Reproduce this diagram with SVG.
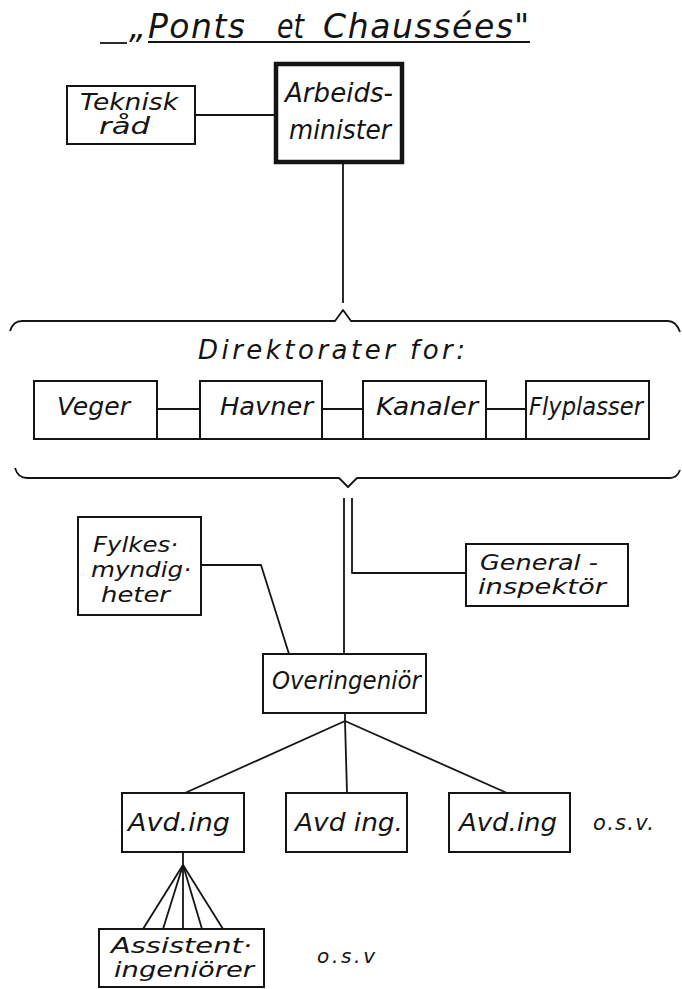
<svg xmlns="http://www.w3.org/2000/svg" width="682" height="989" viewBox="0 0 682 989">
<style>
  .bg { fill: #ffffff; }
  .box { fill: none; stroke: #141414; stroke-width: 2; }
  .thick { fill: none; stroke: #141414; stroke-width: 4.5; }
  .ln { fill: none; stroke: #141414; stroke-width: 1.8; stroke-linejoin: round; }
  text { font-family: "DejaVu Sans", "Liberation Sans", sans-serif; font-style: italic; fill: #141414; }
  .t21 { font-size: 21px; }
  .t22 { font-size: 22px; }
  .t23 { font-size: 23px; }
  .t24 { font-size: 24px; }
  .t26 { font-size: 26px; }
</style>
<rect class="bg" x="0" y="0" width="682" height="989"/>

<g id="title">
  <line class="ln" x1="100" y1="43" x2="127" y2="43" stroke-width="2"/>
  <line class="ln" x1="148" y1="42" x2="530" y2="42" stroke-width="2"/>
  <text font-size="33"><tspan x="129" y="38">„</tspan><tspan x="148" y="38" textLength="97" lengthAdjust="spacing">Ponts</tspan><tspan x="277" y="38" textLength="27" lengthAdjust="spacingAndGlyphs">et</tspan><tspan x="323" y="38" textLength="190" lengthAdjust="spacing">Chaussées</tspan><tspan x="514" y="38">"</tspan></text>
</g>

<g id="connectors">
  <line class="ln" x1="195" y1="115" x2="274" y2="115"/>
  <line class="ln" x1="343" y1="164" x2="343" y2="303"/>
  <path class="ln" d="M10,331 Q13,321 22,321 H335 L343,310 L351,321 H668 Q676,321 680,332" stroke-width="2"/>
  <line class="ln" x1="157" y1="409" x2="200" y2="409"/>
  <line class="ln" x1="322" y1="409" x2="363" y2="409"/>
  <line class="ln" x1="486" y1="409" x2="526" y2="409"/>
  <line class="ln" x1="34" y1="439" x2="649" y2="439" stroke-width="2"/>
  <path class="ln" d="M15,468 Q18,478 27,478 H339 L348,487 L357,478 H670 Q677,478 680,470" stroke-width="2"/>
  <line class="ln" x1="344" y1="498" x2="344" y2="654"/>
  <polyline class="ln" points="352,498 352,573 466,573"/>
  <polyline class="ln" points="201,565 261,565 289,654"/>
  <polyline class="ln" points="345,713 345,721 185,793"/>
  <line class="ln" x1="345" y1="721" x2="347" y2="793"/>
  <line class="ln" x1="345" y1="721" x2="507" y2="793"/>
  <polyline class="ln" points="183,852 183,865 143,929"/>
  <line class="ln" x1="183" y1="865" x2="163" y2="929"/>
  <line class="ln" x1="183" y1="865" x2="183" y2="929"/>
  <line class="ln" x1="183" y1="865" x2="202" y2="929"/>
  <line class="ln" x1="183" y1="865" x2="223" y2="929"/>
</g>

<g id="teknisk-rad">
  <rect class="box" x="67" y="86" width="128" height="58"/>
  <text class="t23"><tspan x="80" y="110" textLength="98" lengthAdjust="spacingAndGlyphs">Teknisk</tspan><tspan x="99" y="134" textLength="51" lengthAdjust="spacingAndGlyphs">råd</tspan></text>
</g>

<g id="arbeidsminister">
  <rect class="thick" x="276" y="64" width="126" height="98"/>
  <text class="t26"><tspan x="285" y="102" textLength="108" lengthAdjust="spacing">Arbeids-</tspan><tspan x="289" y="139" textLength="102" lengthAdjust="spacingAndGlyphs">minister</tspan></text>
</g>

<g id="direktorater">
  <text class="t26" x="198" y="359" textLength="267" lengthAdjust="spacing">Direktorater for:</text>
</g>

<g id="veger">
  <rect class="box" x="34" y="381" width="123" height="58"/>
  <text class="t24" x="57" y="415" textLength="73" lengthAdjust="spacingAndGlyphs">Veger</text>
</g>
<g id="havner">
  <rect class="box" x="200" y="381" width="122" height="58"/>
  <text class="t24" x="220" y="415" textLength="93" lengthAdjust="spacingAndGlyphs">Havner</text>
</g>
<g id="kanaler">
  <rect class="box" x="363" y="381" width="123" height="58"/>
  <text class="t24" x="376" y="415" textLength="102" lengthAdjust="spacingAndGlyphs">Kanaler</text>
</g>
<g id="flyplasser">
  <rect class="box" x="526" y="381" width="123" height="58"/>
  <text class="t24" x="529" y="415" textLength="114" lengthAdjust="spacingAndGlyphs">Flyplasser</text>
</g>

<g id="fylkesmyndigheter">
  <rect class="box" x="78" y="517" width="123" height="98"/>
  <text class="t22"><tspan x="93" y="552" textLength="85" lengthAdjust="spacingAndGlyphs">Fylkes·</tspan><tspan x="91" y="577" textLength="100" lengthAdjust="spacingAndGlyphs">myndig·</tspan><tspan x="101" y="602" textLength="69" lengthAdjust="spacingAndGlyphs">heter</tspan></text>
</g>

<g id="generalinspektor">
  <rect class="box" x="466" y="544" width="162" height="62"/>
  <text class="t21"><tspan x="480" y="570" textLength="118" lengthAdjust="spacingAndGlyphs">General -</tspan><tspan x="478" y="594" textLength="128" lengthAdjust="spacingAndGlyphs">inspektör</tspan></text>
</g>

<g id="overingenior">
  <rect class="box" x="263" y="654" width="163" height="59"/>
  <text class="t24" x="272" y="689" textLength="149" lengthAdjust="spacingAndGlyphs">Overingeniör</text>
</g>

<g id="avd-ing-1">
  <rect class="box" x="122" y="793" width="122" height="59"/>
  <text class="t24" x="128" y="831" textLength="102" lengthAdjust="spacingAndGlyphs">Avd.ing</text>
</g>
<g id="avd-ing-2">
  <rect class="box" x="286" y="793" width="121" height="59"/>
  <text class="t24" x="295" y="831" textLength="108" lengthAdjust="spacingAndGlyphs">Avd ing.</text>
</g>
<g id="avd-ing-3">
  <rect class="box" x="449" y="793" width="121" height="59"/>
  <text class="t24" x="459" y="831" textLength="98" lengthAdjust="spacingAndGlyphs">Avd.ing</text>
</g>
<g id="osv-1">
  <text font-size="21" x="593" y="830" textLength="61" lengthAdjust="spacing">o.s.v.</text>
</g>

<g id="assistentingeniorer">
  <rect class="box" x="99" y="929" width="165" height="58"/>
  <text class="t22"><tspan x="111" y="953" textLength="141" lengthAdjust="spacingAndGlyphs">Assistent·</tspan><tspan x="114" y="977" textLength="140" lengthAdjust="spacingAndGlyphs">ingeniörer</tspan></text>
</g>
<g id="osv-2">
  <text font-size="20" x="317" y="963" textLength="58" lengthAdjust="spacing">o.s.v</text>
</g>
</svg>
